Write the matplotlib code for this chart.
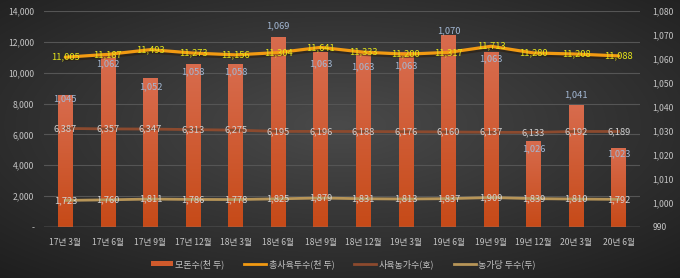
import matplotlib

matplotlib.use("Agg")
import matplotlib.pyplot as plt
import numpy as np
from matplotlib.lines import Line2D
from matplotlib.patches import Patch
from matplotlib.transforms import ScaledTranslation

plt.rcParams["font.family"] = ["Noto Sans CJK KR", "DejaVu Sans"]

# 데이터
periods = ["17년 3월", "17년 6월", "17년 9월", "17년 12월", "18년 3월", "18년 6월",
           "18년 9월", "18년 12월", "19년 3월", "19년 6월", "19년 9월", "19년 12월",
           "20년 3월", "20년 6월"]
sows = [1045, 1062, 1052, 1058, 1058, 1069, 1063, 1063, 1063, 1070, 1063, 1026, 1041, 1023]
total_pigs = [11005, 11187, 11493, 11273, 11156, 11304, 11641, 11333, 11200, 11317,
              11713, 11280, 11208, 11088]
farms = [6387, 6357, 6347, 6313, 6275, 6195, 6196, 6188, 6176, 6160, 6137, 6133, 6192, 6189]
per_farm = [1723, 1760, 1811, 1786, 1778, 1825, 1879, 1831, 1813, 1837, 1909, 1839, 1810, 1792]

left_ticks = [0, 2000, 4000, 6000, 8000, 10000, 12000, 14000]
right_ticks = [990, 1000, 1010, 1020, 1030, 1040, 1050, 1060, 1070, 1080]

# 막대 라벨 위치 (pt, 음수 = 막대 안쪽)
sow_label_dy = [-3, -7, -6, -6, -6, 8, -9, -11, -10, 3, -5, -6, 7, -4]

TXT = "#c4c4c4"

fig = plt.figure(figsize=(6.8, 2.78), dpi=100)

# 배경 (방사형 그라데이션)
bg = fig.add_axes([0, 0, 1, 1], zorder=-10)
yy, xx = np.mgrid[0:1:278j, 0:1:680j]
r = np.sqrt(((xx - 0.5) / 0.75) ** 2 + ((yy - 0.45) / 0.75) ** 2)
r = np.clip(r, 0, 1)
c0 = np.array([0x4a, 0x4a, 0x4a]) / 255
c1 = np.array([0x1e, 0x1e, 0x1e]) / 255
img = c0[None, None, :] * (1 - r[..., None]) + c1[None, None, :] * r[..., None]
bg.imshow(img, aspect="auto", extent=[0, 1, 0, 1])
bg.axis("off")

ax = fig.add_axes([0.0647, 0.1835, 0.8765, 0.777])
ax.set_facecolor("none")
x = np.arange(len(periods))

# 막대 (모돈수, 오른쪽 축)
grad = np.linspace(0, 1, 100)[:, None]
top_c = np.array([0xd8, 0x6c, 0x4e]) / 255
bot_c = np.array([0xc6, 0x4a, 0x18]) / 255
grad_img = top_c[None, None, :] * (1 - grad[..., None]) + bot_c[None, None, :] * grad[..., None]
bars = ax.bar(x, [s - 990 for s in sows], bottom=990, width=0.34, color="#cf5a2c", zorder=2)
for b in bars:
    im = ax.imshow(grad_img, aspect="auto", zorder=2.1,
                   extent=[b.get_x(), b.get_x() + b.get_width(), b.get_y(), b.get_y() + b.get_height()])
    im.set_clip_path(b)
ax.set_xlim(-0.5, len(periods) - 0.5)
ax.set_ylim(990, 1080)

for xi, s, dy in zip(x, sows, sow_label_dy):
    ax.annotate(f"{s:,}", (xi, s), xytext=(0, dy), textcoords="offset points",
                ha="center", va="center", fontsize=6.7, style="italic",
                color="#a3b8d4", zorder=6)

# 격자선 (왼쪽 축 기준)
for v in left_ticks[1:]:
    ax.axhline(990 + v * 90 / 14000, color="#555555", lw=0.8, zorder=1)
ax.axhline(990, color="#8a8a8a", lw=1.0, zorder=3)

ax.set_xticks(x)
ax.set_xticklabels(periods)
for sp in ax.spines.values():
    sp.set_visible(False)

# 선 (왼쪽 축)
ax2 = ax.twinx()
ax2.set_ylim(0, 14000)
ax2.yaxis.tick_left()
ax2.set_yticks(left_ticks)
ax2.set_yticklabels(["-"] + [f"{t:,}" for t in left_ticks[1:]])
ax2.tick_params(axis="y", length=0, colors=TXT, labelsize=6.2, pad=7)
for sp in ax2.spines.values():
    sp.set_visible(False)

ax.yaxis.tick_right()
ax.set_yticks(right_ticks)
ax.set_yticklabels([f"{t:,}" for t in right_ticks])
ax.tick_params(axis="both", length=0, colors=TXT, labelsize=6.2)
ax.tick_params(axis="x", pad=8)
ax.tick_params(axis="y", pad=9)

shadow = ax2.transData + ScaledTranslation(0.5 / 72, -1.2 / 72, fig.dpi_scale_trans)
ax2.plot(x, total_pigs, color="#2a1a08", lw=3.2, alpha=0.5, zorder=3, transform=shadow)
ax2.plot(x, total_pigs, color="#f29a12", lw=2.3, zorder=4, solid_capstyle="round")
ax2.plot(x, farms, color="#8c4a2e", lw=2.0, zorder=4)
ax2.plot(x, per_farm, color="#b79558", lw=2.0, zorder=4)

for xi, v in zip(x, total_pigs):
    ax2.text(xi, v, f"{v:,}", ha="center", va="center", fontsize=6.7,
             color="#e6e61a", zorder=6)
for xi, v in zip(x, farms):
    ax2.text(xi, v, f"{v:,}", ha="center", va="center", fontsize=6.7,
             color="#d0d0d0", zorder=6)
for xi, v in zip(x, per_farm):
    ax2.text(xi, v, f"{v:,}", ha="center", va="center", fontsize=6.7,
             color="#d4d4d4", zorder=6)

handles = [
    Patch(facecolor="#cf5a2c", label="모돈수(천 두)"),
    Line2D([], [], color="#f29a12", lw=2, label="총사육두수(천 두)"),
    Line2D([], [], color="#8c4a2e", lw=2, label="사육농가수(호)"),
    Line2D([], [], color="#b79558", lw=2, label="농가당 두수(두)"),
]
leg = fig.legend(handles=handles, loc="center", bbox_to_anchor=(0.505, 0.05), ncol=4,
                 frameon=False, fontsize=6.5, handlelength=2.4, handleheight=0.5,
                 columnspacing=2.2, handletextpad=0.3)
for t in leg.get_texts():
    t.set_color(TXT)

fig.savefig("out.png", dpi=100)
